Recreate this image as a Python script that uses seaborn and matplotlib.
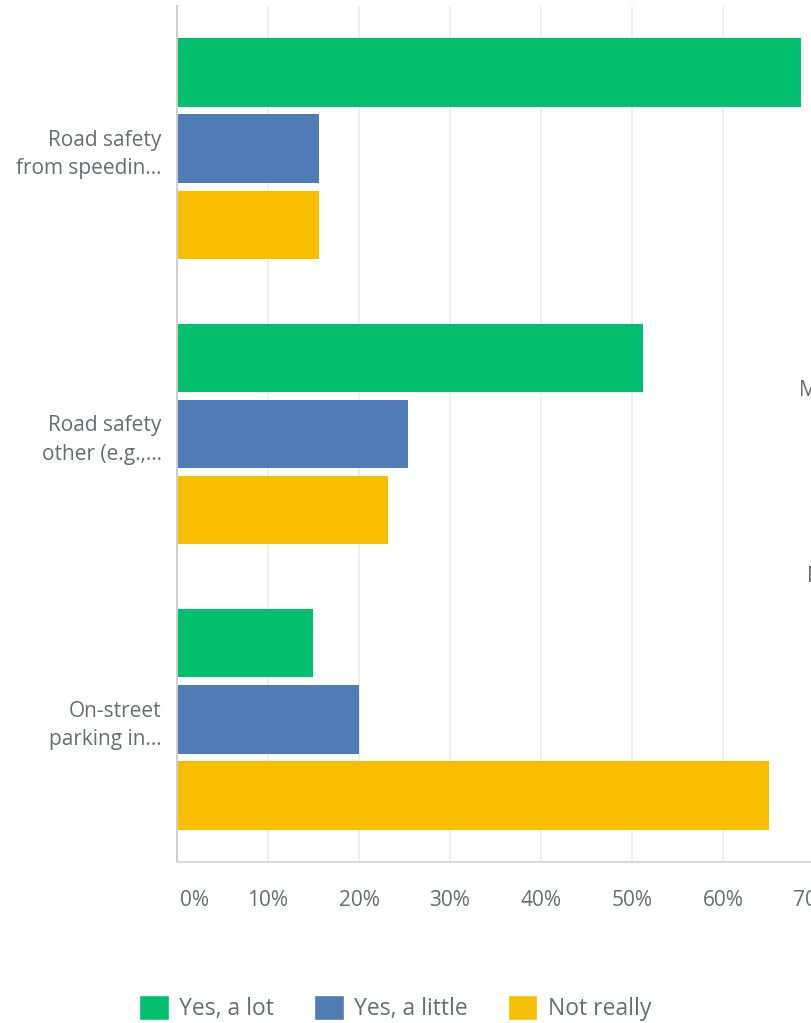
import pandas as pd
import matplotlib.pyplot as plt
import matplotlib.transforms as mtransforms
import seaborn as sns
from matplotlib.patches import Patch

# answers per question, percent of respondents
questions = ['Road safety\nfrom speedin...', 'Road safety\nother (e.g.,...', 'On-street\nparking in...']
answers = ['Yes, a lot', 'Yes, a little', 'Not really']
yes_a_lot = [68.6, 51.2, 14.9]
yes_a_little = [15.6, 25.4, 20.0]
not_really = [15.6, 23.2, 65.1]
x_ticks = [0, 10, 20, 30, 40, 50, 60, 70, 80, 90, 100]
colors = ['#00BF6F', '#507CB6', '#F9BE00']

df = pd.DataFrame({
    'question': questions * 3,
    'answer': [a for a in answers for _ in questions],
    'pct': yes_a_lot + yes_a_little + not_really,
})

sns.set_style('white')
plt.rcParams['font.family'] = ['Open Sans', 'DejaVu Sans']
text_color = '#666E73'

fig = plt.figure(figsize=(8.12, 10.23), dpi=100)
# axes runs off the right edge, the source chart is cropped around 70%
ax = fig.add_axes([177 / 812, 161 / 1023, 910 / 812, 856 / 1023])

sns.barplot(data=df, y='question', x='pct', hue='answer', order=questions,
            hue_order=answers, palette=colors, saturation=1, orient='h',
            width=0.8, gap=0.1, linewidth=0, legend=False, ax=ax)

ax.set_xlim(0, 100)
ax.set_xticks(x_ticks)
ax.set_xticklabels([f'{t}%' for t in x_ticks])
ax.set_xlabel('')
ax.set_ylabel('')
ax.grid(axis='x', color='#ececec', linewidth=1.2)
ax.set_axisbelow(True)
for side in ['top', 'right']:
    ax.spines[side].set_visible(False)
ax.spines['left'].set_color('#cfcfcf')
ax.spines['left'].set_linewidth(1.5)
ax.spines['bottom'].set_color('#dcdcdc')
ax.spines['bottom'].set_linewidth(1.5)
ax.tick_params(axis='x', length=0, pad=20, labelsize=15, labelcolor=text_color)
ax.tick_params(axis='y', length=0, pad=11, labelsize=15, labelcolor=text_color)
for lbl in ax.get_yticklabels():
    lbl.set_linespacing(1.45)
    lbl.set_horizontalalignment('right')

# the 0% label sits right of its gridline in the source
first = ax.get_xticklabels()[0]
first.set_transform(first.get_transform() + mtransforms.ScaledTranslation(0.18, 0, fig.dpi_scale_trans))

# fragments of the neighbouring chart's labels, cut by the crop
fig.text(799 / 812, 1 - 390 / 1023, 'Most', fontsize=15, color=text_color, va='center')
fig.text(807 / 812, 1 - 576 / 1023, 'Ro', fontsize=15, color=text_color, va='center')

handles = [Patch(facecolor=c, label=a) for c, a in zip(colors, answers)]
fig.legend(handles=handles, loc='center', bbox_to_anchor=(395 / 812, 1 - 1008 / 1023),
           ncol=3, frameon=False, fontsize=16.5, labelcolor=text_color,
           handlelength=1.3, handleheight=1.3, handletextpad=0.44, columnspacing=1.75)

fig.savefig('out.png', dpi=100)
